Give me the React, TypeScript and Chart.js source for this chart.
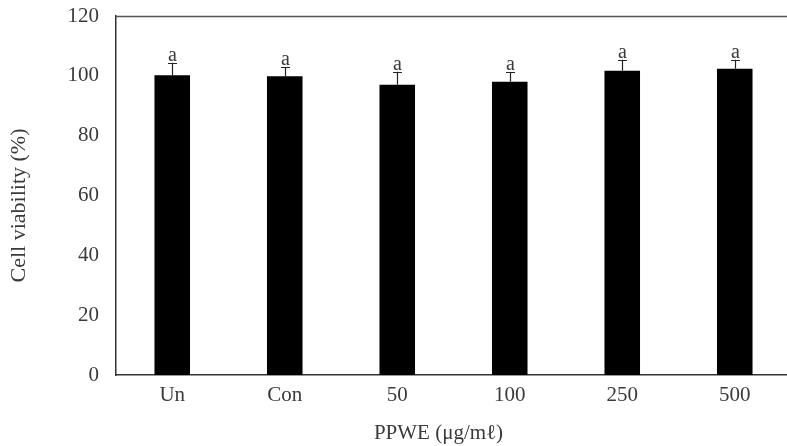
import React, { useEffect, useRef } from "react";
import { Chart, registerables } from "chart.js";

Chart.register(...registerables);

const categories = ["Un", "Con", "50", "100", "250", "500"];
const viability = [100.2, 99.9, 97.0, 98.0, 101.7, 102.4];
const errorUp = [4.2, 3.0, 4.4, 3.2, 3.7, 3.0];
const letters = ["a", "a", "a", "a", "a", "a"];
const yTicks = [0, 20, 40, 60, 80, 100, 120];
const xTitle = "PPWE (\u03bcg/m\u2113)";
const yTitle = "Cell viability (%)";

const FONT = "'Liberation Serif', 'DejaVu Serif', serif";
const TEXT = "#3a3a3a";

const overlay = {
  id: "overlay",
  afterDatasetsDraw(chart: any) {
    const { ctx, chartArea } = chart;
    const xs = chart.scales.x;
    const ys = chart.scales.y;
    ctx.save();
    // top frame line
    ctx.strokeStyle = "#555";
    ctx.lineWidth = 1.5;
    ctx.beginPath();
    ctx.moveTo(chartArea.left, chartArea.top + 0.5);
    ctx.lineTo(chartArea.right, chartArea.top + 0.5);
    ctx.stroke();
    // error bars and letters
    ctx.strokeStyle = "#222";
    ctx.lineWidth = 1.2;
    ctx.fillStyle = TEXT;
    ctx.font = "20px " + FONT;
    ctx.textAlign = "center";
    ctx.textBaseline = "alphabetic";
    viability.forEach((v, i) => {
      const x = Math.round(xs.getPixelForValue(i)) + 0.5;
      const y0 = ys.getPixelForValue(v);
      const y1 = ys.getPixelForValue(v + errorUp[i]);
      ctx.beginPath();
      ctx.moveTo(x, y0);
      ctx.lineTo(x, y1);
      ctx.moveTo(x - 4.5, Math.round(y1) + 0.5);
      ctx.lineTo(x + 4.5, Math.round(y1) + 0.5);
      ctx.stroke();
      ctx.fillText(letters[i], x, y1 - 2);
    });
    // axis titles
    ctx.font = "21px " + FONT;
    ctx.textBaseline = "middle";
    ctx.fillText(xTitle, (chartArea.left + chartArea.right) / 2 - 15, chartArea.bottom + 58);
    ctx.save();
    ctx.font = "22px " + FONT;
    ctx.translate(19, (chartArea.top + chartArea.bottom) / 2 + 10);
    ctx.rotate(-Math.PI / 2);
    ctx.fillText(yTitle, 0, 0);
    ctx.restore();
    ctx.restore();
  },
};

export default function App() {
  const ref = useRef<HTMLCanvasElement | null>(null);
  useEffect(() => {
    if (!ref.current) return;
    const chart = new Chart(ref.current, {
      type: "bar",
      data: {
        labels: categories,
        datasets: [
          {
            data: viability,
            backgroundColor: "#000",
            borderColor: "#444",
            borderWidth: 0,
            barPercentage: 0.316,
            categoryPercentage: 1,
          },
        ],
      },
      options: {
        responsive: false,
        animation: false,
        layout: { padding: { top: 16, left: 0, right: 0, bottom: 0 } },
        plugins: {
          legend: { display: false },
          tooltip: { enabled: false },
        },
        scales: {
          x: {
            grid: { display: false, drawTicks: false },
            border: { display: true, color: "#333", width: 1.5 },
            ticks: {
              color: TEXT,
              font: { family: FONT, size: 21 },
              padding: 8,
              maxRotation: 0,
            },
            afterFit: (s: any) => {
              s.height = 71;
              s.paddingLeft = 0;
              s.paddingRight = 0;
            },
          },
          y: {
            min: 0,
            max: 120,
            grid: { display: false, drawTicks: false },
            border: { display: true, color: "#333", width: 1.5 },
            afterBuildTicks: (s: any) => {
              s.ticks = yTicks.map((v) => ({ value: v }));
            },
            ticks: {
              color: TEXT,
              font: { family: FONT, size: 21 },
              padding: 17,
            },
            afterFit: (s: any) => {
              s.width = 116;
              s.paddingTop = 0;
              s.paddingBottom = 0;
            },
          },
        },
      },
      plugins: [overlay],
    });
    return () => chart.destroy();
  }, []);
  return (
    <div
      style={{
        position: "fixed",
        left: 0,
        top: 0,
        width: 787,
        height: 446,
        overflow: "hidden",
        background: "#fff",
      }}
    >
      <canvas ref={ref} width={791} height={446} style={{ display: "block" }} />
    </div>
  );
}
